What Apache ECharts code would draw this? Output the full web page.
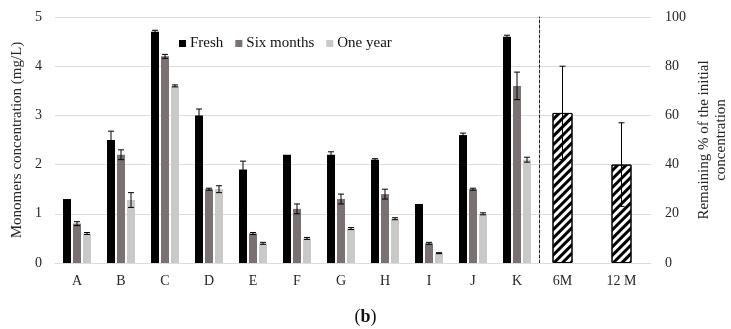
<!DOCTYPE html>
<html>
<head>
<meta charset="utf-8">
<script src="https://cdn.jsdelivr.net/npm/echarts@6/dist/echarts.min.js"></script>
<style>
  html, body { margin: 0; padding: 0; background: #fff; }
  #chart { width: 731px; height: 329px; }
</style>
</head>
<body>
<div id="chart"></div>
<script>
// Monomer concentrations per sample (mg/L) with standard deviations
const categories = ['A', 'B', 'C', 'D', 'E', 'F', 'G', 'H', 'I', 'J', 'K'];
const fresh      = [1.3, 2.5, 4.7, 3.0, 1.9, 2.2, 2.2, 2.1, 1.2, 2.6, 4.6];
const freshErr   = [0, 0.18, 0.03, 0.13, 0.17, 0, 0.06, 0.02, 0, 0.04, 0.03];
const sixMonths  = [0.8, 2.2, 4.2, 1.5, 0.6, 1.1, 1.3, 1.4, 0.4, 1.5, 3.6];
const sixErr     = [0.04, 0.1, 0.04, 0.02, 0.02, 0.1, 0.1, 0.1, 0.02, 0.02, 0.28];
const oneYear    = [0.6, 1.28, 3.6, 1.5, 0.4, 0.5, 0.7, 0.9, 0.2, 1.0, 2.1];
const oneErr     = [0.02, 0.15, 0.02, 0.07, 0.02, 0.02, 0.02, 0.02, 0.01, 0.02, 0.05];

// Remaining share of the initial concentration (%)
const periods      = ['6M', '12 M'];
const remaining    = [61, 40];
const remainingErr = [19, 17];

const leftTicks  = { min: 0, max: 5, interval: 1 };
const rightTicks = { min: 0, max: 100, interval: 20 };

const FONT = 'Liberation Serif';
const TEXT = '#262626';
const GRID = '#dcdcdc';
const BAR_W = 8;
const BAR_GAP = 0.25;

function errorData(values, errs) {
  return values.map((v, i) => [i, v, errs[i]]);
}

// vertical whisker with caps, shifted sideways to sit on its bar within the group
function errorRenderer(offset, halfCap) {
  return function (params, api) {
    const x = api.value(0), v = api.value(1), e = api.value(2);
    if (!e) return null;
    const hi = api.coord([x, v + e]);
    const lo = api.coord([x, v - e]);
    const cx = hi[0] + offset;
    const st = { stroke: '#000', lineWidth: 1 };
    return {
      type: 'group',
      children: [
        { type: 'line', shape: { x1: cx, y1: hi[1], x2: cx, y2: lo[1] }, style: st },
        { type: 'line', shape: { x1: cx - halfCap, y1: hi[1], x2: cx + halfCap, y2: hi[1] }, style: st },
        { type: 'line', shape: { x1: cx - halfCap, y1: lo[1], x2: cx + halfCap, y2: lo[1] }, style: st }
      ]
    };
  };
}

const step = BAR_W * (1 + BAR_GAP);

const chart = echarts.init(document.getElementById('chart'), null, { renderer: 'canvas' });

chart.setOption({
  backgroundColor: '#fff',
  animation: false,
  textStyle: { fontFamily: FONT, color: TEXT },
  title: {
    text: '({b|b})',
    left: 'center',
    top: 303,
    textStyle: {
      fontFamily: FONT, fontSize: 18, fontWeight: 'normal', color: '#111',
      rich: { b: { fontFamily: FONT, fontSize: 18, fontWeight: 'bold', color: '#111' } }
    }
  },
  legend: {
    data: ['Fresh', 'Six months', 'One year'],
    left: 174,
    top: 31,
    itemWidth: 7,
    itemHeight: 7,
    itemGap: 12,
    icon: 'rect',
    textStyle: { fontFamily: FONT, fontSize: 15, color: '#111', padding: [0, 0, 0, -1] }
  },
  grid: [
    { left: 55, right: 192, top: 17, bottom: 66 },
    { left: 533, right: 78, top: 17, bottom: 66 }
  ],
  xAxis: [
    {
      type: 'category', gridIndex: 0, data: categories,
      axisLine: { lineStyle: { color: GRID } },
      axisTick: { show: false },
      axisLabel: { fontFamily: FONT, fontSize: 14, color: TEXT, margin: 11 }
    },
    {
      type: 'category', gridIndex: 1, data: periods,
      axisLine: { lineStyle: { color: GRID } },
      axisTick: { show: false },
      axisLabel: { fontFamily: FONT, fontSize: 14, color: TEXT, margin: 11 }
    }
  ],
  yAxis: [
    {
      type: 'value', gridIndex: 0, position: 'left',
      min: leftTicks.min, max: leftTicks.max, interval: leftTicks.interval,
      name: 'Monomers concentration (mg/L)',
      nameLocation: 'middle', nameGap: 21,
      nameTextStyle: { fontFamily: FONT, fontSize: 15, color: TEXT },
      axisLine: { show: false }, axisTick: { show: false },
      axisLabel: { fontFamily: FONT, fontSize: 14, color: TEXT, margin: 13 },
      splitLine: { lineStyle: { color: GRID, width: 1 } }
    },
    {
      // dashed divider between the two panels
      type: 'value', gridIndex: 0, position: 'right',
      min: leftTicks.min, max: leftTicks.max, interval: leftTicks.interval,
      axisLine: { show: true, lineStyle: { color: '#222', width: 1, type: [3, 2] } },
      axisTick: { show: false }, axisLabel: { show: false }, splitLine: { show: false }
    },
    {
      type: 'value', gridIndex: 1, position: 'right',
      min: rightTicks.min, max: rightTicks.max, interval: rightTicks.interval,
      name: 'Remaining % of the initial\nconcentration',
      nameLocation: 'middle', nameGap: 45, nameRotate: 90,
      nameTextStyle: { fontFamily: FONT, fontSize: 15, color: TEXT, lineHeight: 17, align: 'center' },
      axisLine: { show: false }, axisTick: { show: false },
      axisLabel: { fontFamily: FONT, fontSize: 14, color: TEXT, margin: 14 },
      splitLine: { lineStyle: { color: GRID, width: 1 } }
    }
  ],
  series: [
    {
      name: 'Fresh', type: 'bar', xAxisIndex: 0, yAxisIndex: 0,
      data: fresh, barWidth: BAR_W, barGap: (BAR_GAP * 100) + '%',
      itemStyle: { color: '#000' }
    },
    {
      name: 'Six months', type: 'bar', xAxisIndex: 0, yAxisIndex: 0,
      data: sixMonths, barWidth: BAR_W, barGap: (BAR_GAP * 100) + '%',
      itemStyle: { color: '#7a7272' }
    },
    {
      name: 'One year', type: 'bar', xAxisIndex: 0, yAxisIndex: 0,
      data: oneYear, barWidth: BAR_W, barGap: (BAR_GAP * 100) + '%',
      itemStyle: { color: '#c9c9c9' }
    },
    {
      name: 'Remaining', type: 'bar', xAxisIndex: 1, yAxisIndex: 2,
      data: remaining, barWidth: 20,
      itemStyle: {
        color: '#fff', borderColor: '#000', borderWidth: 1,
        decal: {
          symbol: 'rect', symbolSize: 1,
          dashArrayX: [1, 0], dashArrayY: [2.5, 2.5],
          rotation: -Math.PI / 4, color: '#000'
        }
      }
    },
    {
      type: 'custom', xAxisIndex: 0, yAxisIndex: 0, z: 5,
      data: errorData(fresh, freshErr), renderItem: errorRenderer(-step, 3)
    },
    {
      type: 'custom', xAxisIndex: 0, yAxisIndex: 0, z: 5,
      data: errorData(sixMonths, sixErr), renderItem: errorRenderer(0, 3)
    },
    {
      type: 'custom', xAxisIndex: 0, yAxisIndex: 0, z: 5,
      data: errorData(oneYear, oneErr), renderItem: errorRenderer(step, 3)
    },
    {
      type: 'custom', xAxisIndex: 1, yAxisIndex: 2, z: 5,
      data: errorData(remaining, remainingErr), renderItem: errorRenderer(0, 3)
    }
  ]
});
</script>
</body>
</html>
